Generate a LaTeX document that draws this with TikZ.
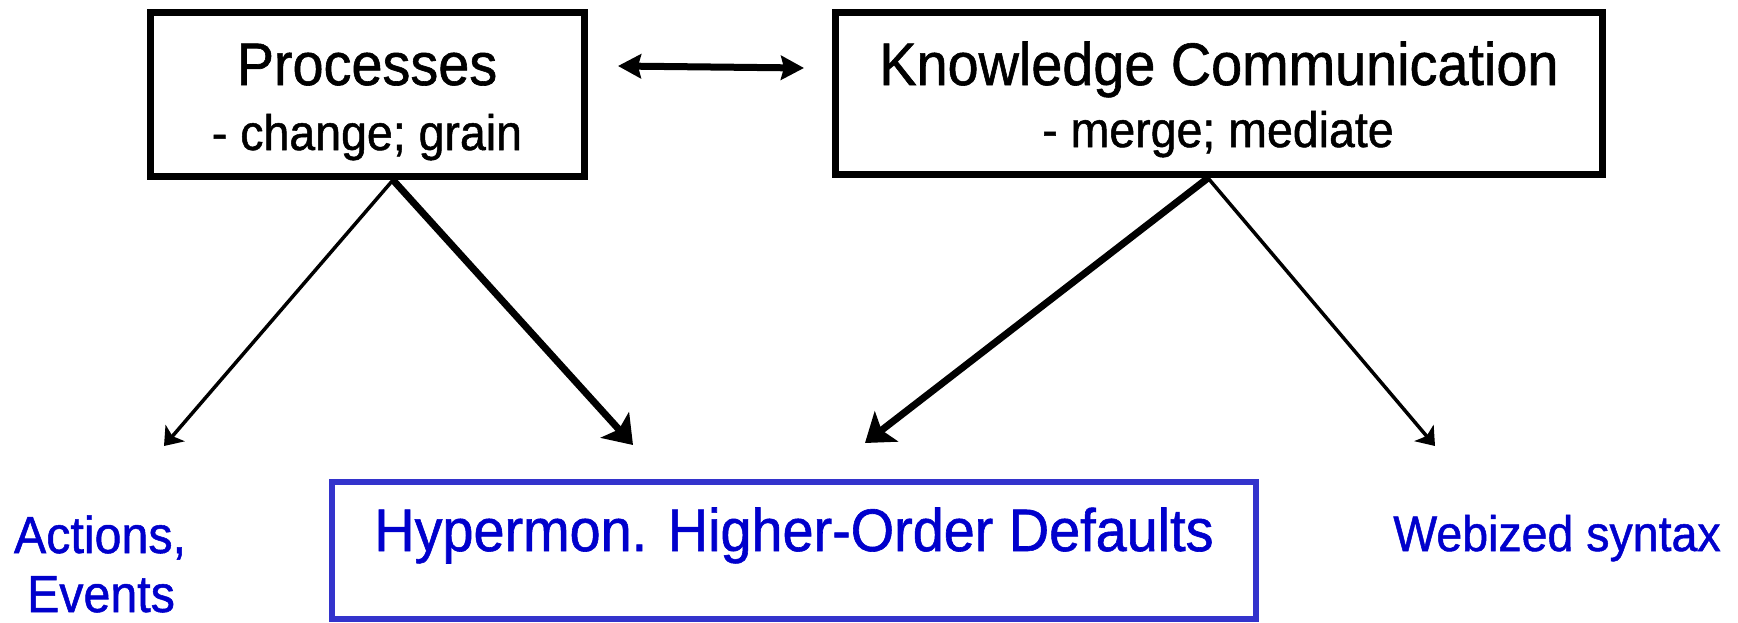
\documentclass[tikz,border=0pt]{standalone}
\usepackage{fontspec}
\setmainfont[FakeStretch=0.93,FakeBold=1]{Liberation Sans}
\usetikzlibrary{arrows.meta}
\definecolor{boxblue}{HTML}{3333CC}
\definecolor{txtblue}{HTML}{0000CC}
\begin{document}
\begin{tikzpicture}[x=1pt,y=-1pt,
  blackbox/.style={draw=black, line width=7pt, inner sep=0pt},
  bluebox/.style={draw=boxblue, line width=6pt, inner sep=0pt},
  bigtext/.style={font=\fontsize{60}{72}\selectfont, inner sep=0pt, anchor=base},
  subtext/.style={font=\fontsize{50}{60}\selectfont, inner sep=0pt, anchor=base},
  bluetext/.style={text=txtblue, inner sep=0pt, anchor=base},
  thinarrow/.style={line width=3.5pt, -{Stealth[length=17pt,width=25pt,inset=4pt]}},
  thickarrow/.style={line width=7pt, -{Stealth[length=27pt,width=38pt,inset=6pt]}},
  dblarrow/.style={line width=7pt, {Stealth[length=23pt,width=24pt,inset=3pt]}-{Stealth[length=23pt,width=24pt,inset=3pt]}}
]
\useasboundingbox (0,0) rectangle (1738,622);

% top boxes
\node[blackbox, minimum width=434pt, minimum height=164pt] (proc) at (367,94) {};
\node[bigtext] (proct) at (367,85) {Processes};
\node[subtext] (procs) at (367,150) {- change; grain};

\node[blackbox, minimum width=767pt, minimum height=162pt] (know) at (1218.5,93) {};
\node[bigtext] (knowt) at (1219,85) {Knowledge Communication};
\node[subtext] (knows) at (1218,147) {- merge; mediate};

% bottom
\node[bluebox, minimum width=924pt, minimum height=137pt] (hyp) at (794,550.5) {};
\node[bluetext, font=\fontsize{60}{72}\selectfont] (hypt) at (794,551) {Hypermon. Higher-Order Defaults};
\node[bluetext, font=\fontsize{52}{61}\selectfont] (act1) at (100,553) {Actions,};
\node[bluetext, font=\fontsize{52}{61}\selectfont] (act2) at (101,612) {Events};
\node[bluetext, font=\fontsize{50}{60}\selectfont] (web) at (1557,551) {Webized syntax};

% connector ends
\coordinate (dl) at (618,66);
\coordinate (dr) at (804,68);
\coordinate (ps) at (393,180);
\coordinate (ks) at (1208,178);
\coordinate (pa) at (164,446);
\coordinate (ph) at (633,445);
\coordinate (kh) at (865,443);
\coordinate (kw) at (1435,446);

\draw[dblarrow] (dl) -- (dr);
\draw[thinarrow] (ps) -- (pa);
\draw[thickarrow] (ps) -- (ph);
\draw[thickarrow] (ks) -- (kh);
\draw[thinarrow] (ks) -- (kw);
\end{tikzpicture}
\end{document}
